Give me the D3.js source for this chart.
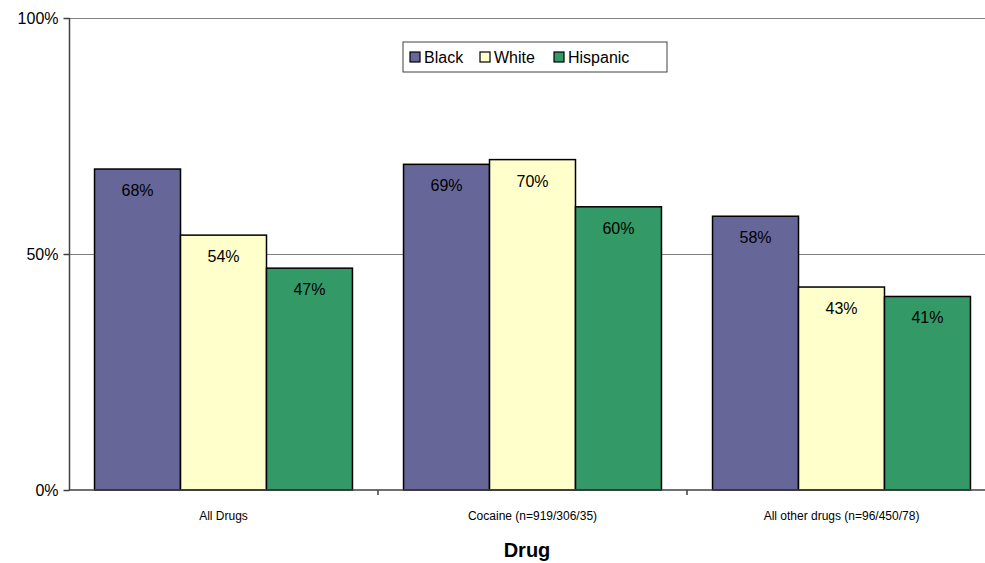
<!DOCTYPE html>
<html>
<head>
<meta charset="utf-8">
<script src="https://cdn.jsdelivr.net/npm/d3@7"></script>
<style>
  html, body { margin: 0; padding: 0; background: #fff; }
  svg { display: block; font-family: "Liberation Sans", Arial, sans-serif; }
</style>
</head>
<body>
<svg id="chart" width="985" height="563"></svg>
<script>
// Drug categories along the x axis
const categories = ["All Drugs", "Cocaine (n=919/306/35)", "All other drugs (n=96/450/78)"];
// Series names and their percentages per category
const seriesNames = ["Black", "White", "Hispanic"];
const blackValues = [68, 69, 58];
const whiteValues = [54, 70, 43];
const hispanicValues = [47, 60, 41];
const yTicks = [0, 50, 100];
const xTitle = "Drug";

const seriesValues = [blackValues, whiteValues, hispanicValues];
const colors = ["#666699", "#FFFFCC", "#339966"];

const svg = d3.select("#chart");
const margin = { left: 69, top: 18, bottom: 490 };
const plotRight = 996;

const x = d3.scaleBand().domain(categories).range([margin.left, plotRight]).paddingInner(0).paddingOuter(0);
const inner = d3.scaleBand().domain(seriesNames).range([0, x.bandwidth()]).paddingInner(0).paddingOuter(0.297);
const y = d3.scaleLinear().domain([0, 100]).range([margin.bottom, margin.top]);

// Horizontal gridlines
svg.append("g").selectAll("line").data(yTicks.filter(d => d > 0)).join("line")
  .attr("x1", margin.left).attr("x2", 985)
  .attr("y1", d => Math.round(y(d)) + 0.5).attr("y2", d => Math.round(y(d)) + 0.5)
  .attr("stroke", "#808080").attr("stroke-width", 1);

// Bars
const groups = svg.append("g").selectAll("g").data(categories).join("g")
  .attr("transform", d => `translate(${x(d)},0)`);

groups.selectAll("rect").data((c, ci) => seriesNames.map((s, si) => ({ s, si, v: seriesValues[si][ci] })))
  .join("rect")
  .attr("x", d => inner(d.s))
  .attr("y", d => y(d.v))
  .attr("width", inner.bandwidth())
  .attr("height", d => y(0) - y(d.v))
  .attr("fill", d => colors[d.si])
  .attr("stroke", "#000").attr("stroke-width", 1.5);

groups.selectAll("text").data((c, ci) => seriesNames.map((s, si) => ({ s, si, v: seriesValues[si][ci] })))
  .join("text")
  .attr("x", d => inner(d.s) + inner.bandwidth() / 2)
  .attr("y", d => y(d.v) + 27)
  .attr("text-anchor", "middle")
  .attr("font-size", 16)
  .attr("fill", "#000")
  .text(d => d.v + "%");

// Y axis
const yAxis = svg.append("g").attr("transform", `translate(${margin.left + 0.5},0)`)
  .call(d3.axisLeft(y).tickValues(yTicks).tickFormat(d => d + "%").tickSize(6).tickPadding(5));
yAxis.select(".domain").attr("stroke", "#404040").attr("stroke-width", 1.5).attr("d", `M0,${y(100)}V${y(0)}`);
yAxis.selectAll(".tick line").attr("stroke", "#404040").attr("stroke-width", 1.5);
yAxis.selectAll(".tick text").attr("font-size", 16).attr("fill", "#000")
  .attr("font-family", "Liberation Sans, Arial, sans-serif");

// X axis
const xAxis = svg.append("g").attr("transform", `translate(0,${margin.bottom})`)
  .call(d3.axisBottom(x).tickSize(0).tickPadding(21));
xAxis.select(".domain").attr("stroke", "#404040").attr("stroke-width", 1.5).attr("d", `M${margin.left},0H985`);
xAxis.selectAll(".tick text").attr("font-size", 12).attr("fill", "#000")
  .attr("font-family", "Liberation Sans, Arial, sans-serif");
// Category boundary tick marks
svg.append("g").selectAll("line").data(categories.slice(1)).join("line")
  .attr("x1", d => x(d)).attr("x2", d => x(d))
  .attr("y1", margin.bottom).attr("y2", margin.bottom + 5)
  .attr("stroke", "#404040").attr("stroke-width", 1.5);

// X axis title
svg.append("text").attr("x", 527).attr("y", 557)
  .attr("text-anchor", "middle").attr("font-size", 20).attr("font-weight", "bold").text(xTitle);

// Legend
const legend = svg.append("g").attr("transform", "translate(403,42)");
legend.append("rect").attr("width", 264).attr("height", 30).attr("fill", "#fff")
  .attr("stroke", "#404040").attr("stroke-width", 1);
const legendX = [7, 77, 151];
const items = legend.selectAll("g").data(seriesNames).join("g")
  .attr("transform", (d, i) => `translate(${legendX[i]},10)`);
items.append("rect").attr("width", 10).attr("height", 10)
  .attr("fill", (d, i) => colors[i]).attr("stroke", "#000").attr("stroke-width", 1.2);
items.append("text").attr("x", 14).attr("y", 11).attr("font-size", 16).attr("fill", "#000").text(d => d);
</script>
</body>
</html>
